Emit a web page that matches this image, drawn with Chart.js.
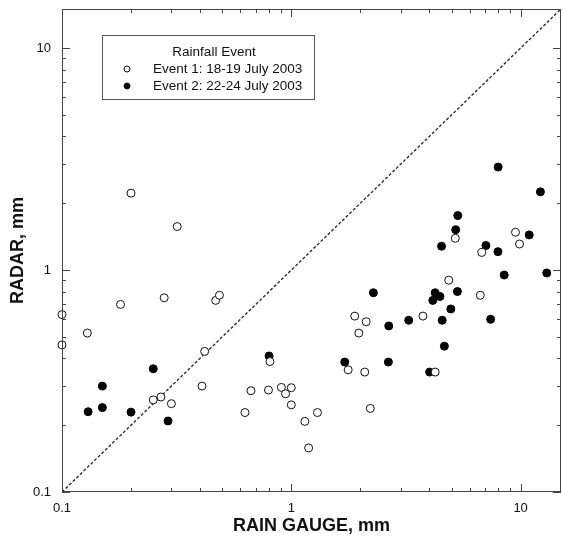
<!DOCTYPE html>
<html>
<head>
<meta charset="utf-8">
<script src="https://cdn.jsdelivr.net/npm/chart.js@4"></script>
<style>
  html, body { margin: 0; padding: 0; background: #fff; }
  #wrap { width: 563px; height: 540px; }
</style>
</head>
<body>
<div id="wrap"><canvas id="radar-gauge-chart" width="563" height="540"></canvas></div>
<script>
// Event 1: 18-19 July 2003 (open circles)
const event1Gauge = [0.1, 0.1, 0.129, 0.18, 0.2, 0.279, 0.318, 0.468, 0.486, 0.419, 0.408, 0.25, 0.27, 0.30,
  0.628, 0.667, 0.795, 0.807, 0.905, 0.944, 1.0, 1.0, 1.146, 1.19, 1.30, 1.77, 1.89, 1.97, 2.12, 2.09, 2.21,
  3.75, 4.24, 4.86, 5.19, 6.67, 6.77, 9.5, 9.89];
const event1Radar = [0.63, 0.46, 0.52, 0.70, 2.22, 0.75, 1.57, 0.73, 0.77, 0.43, 0.30, 0.26, 0.268, 0.25,
  0.228, 0.286, 0.288, 0.387, 0.296, 0.277, 0.295, 0.247, 0.208, 0.158, 0.228, 0.355, 0.62, 0.52, 0.585, 0.347, 0.238,
  0.62, 0.347, 0.90, 1.39, 0.77, 1.2, 1.48, 1.31];

// Event 2: 22-24 July 2003 (filled circles)
const event2Gauge = [0.130, 0.15, 0.15, 0.20, 0.25, 0.29, 0.80, 1.71, 2.28, 2.66, 2.65, 3.25, 4.01, 4.14, 4.24,
  4.45, 4.52, 4.55, 4.65, 4.96, 5.21, 5.32, 5.3, 7.06, 7.4, 7.98, 7.96, 8.48, 10.9, 12.2, 13.0];
const event2Radar = [0.23, 0.30, 0.24, 0.229, 0.359, 0.209, 0.41, 0.385, 0.79, 0.56, 0.385, 0.594, 0.347, 0.73, 0.79,
  0.76, 1.28, 0.594, 0.454, 0.668, 1.52, 1.76, 0.80, 1.29, 0.60, 2.91, 1.21, 0.95, 1.44, 2.25, 0.97];

// 1:1 line and axis range
const oneToOne = [0.1, 15];
const majorTicks = [0.1, 1, 10];
const minorSteps = [2, 3, 4, 5, 6, 7, 8, 9];

const FONT = "'Liberation Sans', Arial, Helvetica, sans-serif";

const tickValues = [];
majorTicks.forEach(m => {
  tickValues.push(m);
  minorSteps.forEach(s => {
    const v = +(m * s).toPrecision(3);
    if (v <= oneToOne[1]) tickValues.push(v);
  });
});

const toPoints = (xs, ys) => xs.map((x, i) => ({ x: x, y: ys[i] }));

const noPad = scale => {
  scale.paddingLeft = 0; scale.paddingRight = 0;
  scale.paddingTop = 0; scale.paddingBottom = 0;
};

// inward tick marks on all four sides + frame
const frameTicks = {
  id: 'frameTicks',
  afterDraw(chart) {
    const { ctx, chartArea: a, scales } = chart;
    ctx.save();
    ctx.strokeStyle = '#444';
    ctx.lineWidth = 1;
    ctx.strokeRect(a.left + 0.5, a.top + 0.5, a.right - a.left - 1, a.bottom - a.top - 1);
    ctx.beginPath();
    tickValues.forEach(v => {
      const len = majorTicks.includes(v) ? 8 : 4;
      const px = Math.round(scales.x.getPixelForValue(v)) + 0.5;
      ctx.moveTo(px, a.bottom); ctx.lineTo(px, a.bottom - len);
      ctx.moveTo(px, a.top); ctx.lineTo(px, a.top + len);
      const py = Math.round(scales.y.getPixelForValue(v)) + 0.5;
      ctx.moveTo(a.left, py); ctx.lineTo(a.left + len, py);
      ctx.moveTo(a.right, py); ctx.lineTo(a.right - len, py);
    });
    ctx.stroke();
    ctx.restore();
  }
};

// boxed legend inside the plot, top left
const boxLegend = {
  id: 'boxLegend',
  afterDraw(chart) {
    const { ctx } = chart;
    const x0 = 102, y0 = 35, w = 212, h = 64;
    ctx.save();
    ctx.fillStyle = '#fff';
    ctx.fillRect(x0, y0, w, h);
    ctx.strokeStyle = '#555';
    ctx.lineWidth = 1;
    ctx.strokeRect(x0 + 0.5, y0 + 0.5, w, h);
    ctx.fillStyle = '#111';
    ctx.font = '13.5px ' + FONT;
    ctx.textBaseline = 'middle';
    ctx.textAlign = 'center';
    ctx.fillText('Rainfall Event', x0 + 112, y0 + 17);
    ctx.textAlign = 'left';
    chart.data.datasets.slice(0, 2).forEach((ds, i) => {
      const y = y0 + 34 + i * 17;
      ctx.beginPath();
      ctx.arc(x0 + 25, y, 3, 0, Math.PI * 2);
      ctx.fillStyle = ds.backgroundColor;
      ctx.fill();
      ctx.strokeStyle = '#111';
      ctx.stroke();
      ctx.fillStyle = '#111';
      ctx.fillText(ds.label, x0 + 51, y);
    });
    ctx.restore();
  }
};

new Chart(document.getElementById('radar-gauge-chart'), {
  type: 'scatter',
  data: {
    datasets: [
      {
        label: 'Event 1: 18-19 July 2003',
        data: toPoints(event1Gauge, event1Radar),
        backgroundColor: '#fff',
        borderColor: '#111',
        borderWidth: 1,
        pointRadius: 4,
        clip: false
      },
      {
        label: 'Event 2: 22-24 July 2003',
        data: toPoints(event2Gauge, event2Radar),
        backgroundColor: '#000',
        borderColor: '#000',
        borderWidth: 1,
        pointRadius: 4,
        clip: false
      },
      {
        type: 'line',
        label: '1:1',
        data: toPoints(oneToOne, oneToOne),
        borderColor: '#222',
        borderWidth: 1.3,
        borderDash: [3, 2],
        pointRadius: 0,
        fill: false
      }
    ]
  },
  options: {
    responsive: false,
    animation: false,
    layout: { autoPadding: false, padding: { top: 9, right: 2, left: 0, bottom: 0 } },
    plugins: {
      legend: { display: false },
      tooltip: { enabled: false }
    },
    scales: {
      x: {
        type: 'logarithmic',
        min: oneToOne[0],
        max: oneToOne[1],
        grid: { display: false, drawTicks: false },
        border: { display: false },
        afterBuildTicks: scale => { scale.ticks = tickValues.map(v => ({ value: v })); },
        afterFit: scale => { scale.height = 48; noPad(scale); },
        ticks: {
          autoSkip: false,
          maxRotation: 0,
          padding: 9,
          color: '#111',
          font: { family: FONT, size: 13 },
          callback: v => majorTicks.includes(v) ? String(v) : ''
        },
        title: {
          display: true,
          text: 'RAIN GAUGE, mm',
          color: '#111',
          font: { family: FONT, size: 18, weight: 'bold' },
          padding: { top: 0, bottom: 3 }
        }
      },
      y: {
        type: 'logarithmic',
        min: oneToOne[0],
        max: oneToOne[1],
        grid: { display: false, drawTicks: false },
        border: { display: false },
        afterBuildTicks: scale => { scale.ticks = tickValues.map(v => ({ value: v })); },
        afterFit: scale => { scale.width = 62; noPad(scale); },
        ticks: {
          autoSkip: false,
          padding: 11,
          color: '#111',
          font: { family: FONT, size: 13 },
          callback: v => majorTicks.includes(v) ? String(v) : ''
        },
        title: {
          display: true,
          text: 'RADAR, mm',
          color: '#111',
          font: { family: FONT, size: 18, weight: 'bold' },
          padding: { top: 7, bottom: 0 }
        }
      }
    }
  },
  plugins: [frameTicks, boxLegend]
});
</script>
</body>
</html>
